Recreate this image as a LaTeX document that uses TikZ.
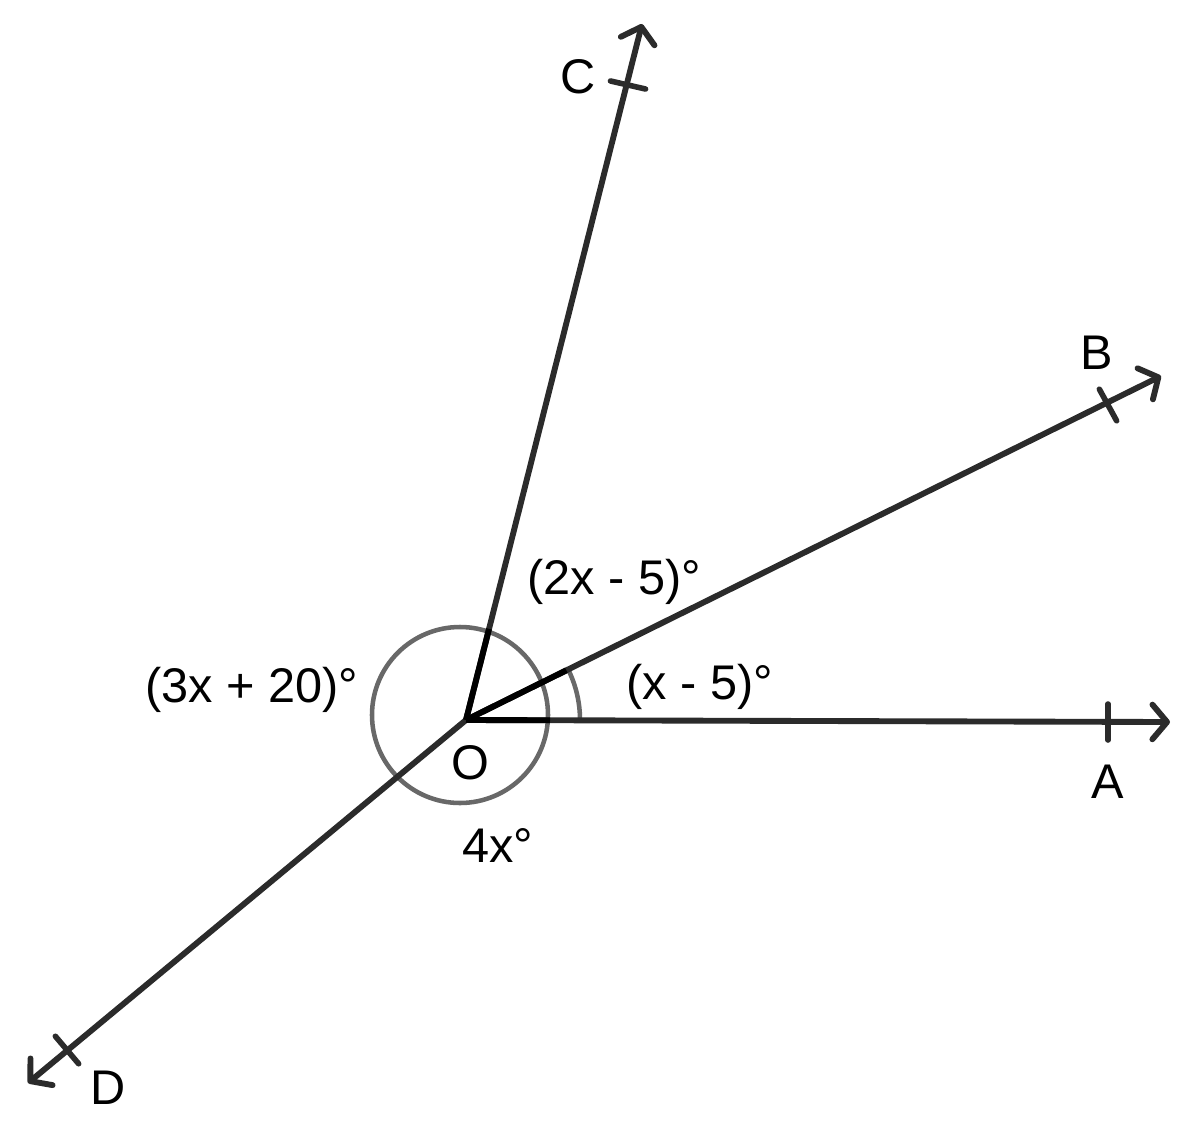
\documentclass[tikz,border=0pt]{standalone}
\usepackage{fontspec}
\setmainfont{Liberation Sans}
\usetikzlibrary{arrows.meta,calc}
\definecolor{ink}{HTML}{2B2B2B}
\definecolor{arcgray}{HTML}{686868}
\tikzset{
  ray/.style={line width=4.4pt, draw=ink, line cap=round,
    -{Straight Barb[length=11pt,width=26pt,line cap=round,line join=round]}},
  tick/.style={line width=4.2pt, draw=ink, line cap=round},
  angmark/.style={line width=3.4pt, draw=arcgray},
  lbl/.style={font=\fontsize{36.5pt}{40pt}\selectfont, inner sep=0pt}
}
\begin{document}
\begin{tikzpicture}[x=0.75pt,y=0.75pt,yscale=-1]
    \useasboundingbox (0,0) rectangle (1200,1125);

    % vertex and ray ends
    \coordinate (O) at (466,720);
    \coordinate (A) at (1170,722);
    \coordinate (B) at (1161,376);
    \coordinate (C) at (642,24);
    \coordinate (D) at (28,1083);
    \coordinate (tA) at (1108,722);
    \coordinate (tB) at (1108,405);
    \coordinate (tC) at (628,85);
    \coordinate (tD) at (67,1050);

    % angle marks
    \draw[angmark] (460,715) circle (88);
    \draw[angmark] (580,720) arc (0:-26.3:114);

    % rays
    \draw[ray] (O) -- (A);
    \draw[ray] (O) -- (B);
    \draw[ray] (O) -- (C);
    \draw[ray] (O) -- (D);
    \draw[line width=4.4pt] (O) -- ($(O)!63pt!(A)$);
    \draw[line width=4.4pt] (O) -- ($(O)!84pt!(B)$);
    \draw[line width=4.4pt] (O) -- ($(O)!70.5pt!(C)$);

    % ticks
    \draw[tick] ($(tA)!13.5pt!90:(A)$) -- ($(tA)!13.5pt!-90:(A)$);
    \draw[tick] ($(tB)!13.5pt!90:(B)$) -- ($(tB)!13.5pt!-90:(B)$);
    \draw[tick] ($(tC)!13.5pt!90:(C)$) -- ($(tC)!13.5pt!-90:(C)$);
    \draw[tick] ($(tD)!13.5pt!90:(D)$) -- ($(tD)!13.5pt!-90:(D)$);

    % labels
    \draw (1108,782) node [lbl] (labA) {A};
    \draw (1097,353) node [lbl] (labB) {B};
    \draw (578,77) node [lbl] (labC) {C};
    \draw (108,1088) node [lbl] (labD) {D};
    \draw (470,763) node [lbl] (labO) {O};
    \draw (614,582) node [lbl] (angBC) {(2x - 5)°};
    \draw (700,687) node [lbl] (angAB) {(x - 5)°};
    \draw (252,690) node [lbl] (angCD) {(3x + 20)°};
    \draw (498,845) node [lbl] (angDA) {4x°};

\end{tikzpicture}
\end{document}
